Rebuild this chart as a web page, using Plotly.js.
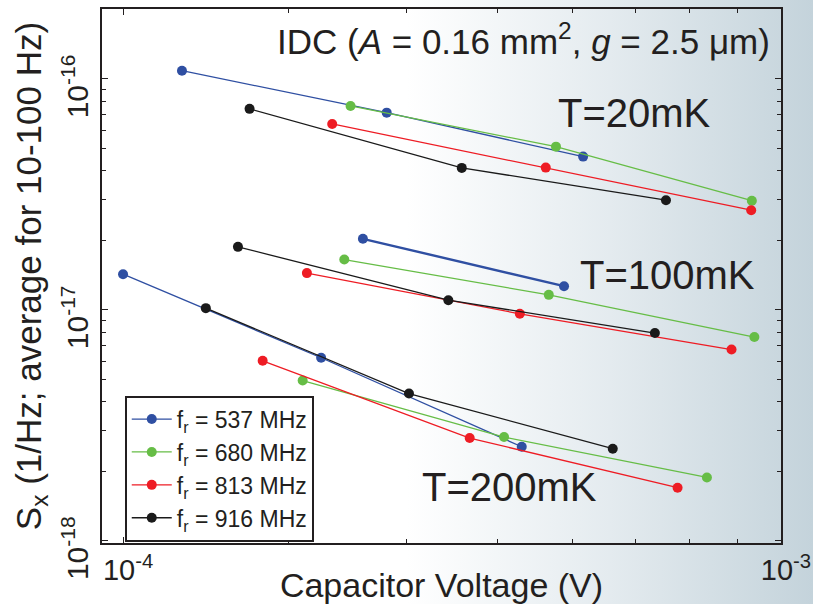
<!DOCTYPE html>
<html>
<head>
<meta charset="utf-8">
<script src="https://cdn.plot.ly/plotly-3.0.1.min.js"></script>
<style>
  html, body { margin: 0; padding: 0; }
  #chart { width: 813px; height: 604px;
    background: linear-gradient(90deg, #ffffff 0%, #ffffff 50%, #e4ebef 75%, #c4d3db 100%); }
</style>
</head>
<body>
<div id="chart"></div>
<script>
// Frequencies (legend)
const freqLabels = ['f<sub>r</sub> = 537 MHz', 'f<sub>r</sub> = 680 MHz', 'f<sub>r</sub> = 813 MHz', 'f<sub>r</sub> = 916 MHz'];
const temps = ['20mK', '100mK', '200mK'];

// Capacitor voltage (V) and S_x (1/Hz) per frequency and temperature
// f_r = 537 MHz
const x537_20  = [1.229e-4, 2.516e-4, 5.003e-4];
const y537_20  = [1.086e-16, 7.146e-17, 4.609e-17];
const x537_100 = [2.315e-4, 4.68e-4];
const y537_100 = [2.03e-17, 1.266e-17];
const x537_200 = [1.0e-4, 2.0e-4, 4.036e-4];
const y537_200 = [1.427e-17, 6.2e-18, 2.552e-18];
// f_r = 680 MHz
const x680_20  = [2.217e-4, 4.55e-4, 9.03e-4];
const y680_20  = [7.64e-17, 5.09e-17, 2.97e-17];
const x680_100 = [2.169e-4, 4.437e-4, 9.11e-4];
const y680_100 = [1.651e-17, 1.161e-17, 7.62e-18];
const x680_200 = [1.875e-4, 3.794e-4, 7.716e-4];
const y680_200 = [4.94e-18, 2.811e-18, 1.879e-18];
// f_r = 813 MHz
const x813_20  = [2.079e-4, 4.39e-4, 9.01e-4];
const y813_20  = [6.385e-17, 4.13e-17, 2.70e-17];
const x813_100 = [1.903e-4, 4.009e-4, 8.41e-4];
const y813_100 = [1.442e-17, 9.61e-18, 6.73e-18];
const x813_200 = [1.63e-4, 3.364e-4, 6.963e-4];
const y813_200 = [6.015e-18, 2.783e-18, 1.696e-18];
// f_r = 916 MHz
const x916_20  = [1.557e-4, 3.272e-4, 6.686e-4];
const y916_20  = [7.42e-17, 4.118e-17, 2.985e-17];
const x916_100 = [1.495e-4, 3.122e-4, 6.432e-4];
const y916_100 = [1.874e-17, 1.101e-17, 7.93e-18];
const x916_200 = [1.336e-4, 2.72e-4, 5.55e-4];
const y916_200 = [1.017e-17, 4.34e-18, 2.502e-18];

// Axis ticks
const xTickVals = [1e-4, 1e-3];
const xTickText = ['10<sup>-4</sup>', '10<sup>-3</sup>'];
const xMinorVals = [1.787e-4, 2.698e-4, 3.711e-4, 4.827e-4, 6.0e-4, 7.261e-4, 8.59e-4];
const yTickVals = [1e-18, 1e-17, 1e-16];
const yTickText = ['10<sup>-18</sup>', '10<sup>-17</sup>', '10<sup>-16</sup>'];
const yMinorVals = [2e-18, 3e-18, 4e-18, 5e-18, 6e-18, 7e-18, 8e-18, 9e-18,
                    2e-17, 3e-17, 4e-17, 5e-17, 6e-17, 7e-17, 8e-17, 9e-17];

const colors = ['#2f4fa2', '#66bd46', '#ee1c24', '#1a1a1a'];
const seriesData = [
  [[x537_20, y537_20], [x537_100, y537_100], [x537_200, y537_200]],
  [[x680_20, y680_20], [x680_100, y680_100], [x680_200, y680_200]],
  [[x813_20, y813_20], [x813_100, y813_100], [x813_200, y813_200]],
  [[x916_20, y916_20], [x916_100, y916_100], [x916_200, y916_200]]
];

const traces = [];
seriesData.forEach((groups, fi) => {
  groups.forEach((g, ti) => {
    const thick = (fi === 0 && ti === 1);
    traces.push({
      type: 'scatter', mode: 'lines+markers',
      x: g[0], y: g[1],
      name: freqLabels[fi],
      legendgroup: 'f' + fi,
      showlegend: ti === 0,
      line: { color: colors[fi], width: thick ? 2.4 : 1.3 },
      marker: { color: colors[fi], size: 10 },
      hovertemplate: temps[ti] + '<br>%{x}<br>%{y}<extra></extra>'
    });
  });
});

const axColor = '#231f20';
const layout = {
  width: 813, height: 604,
  margin: { l: 102, r: 32, t: 9, b: 61 },
  paper_bgcolor: 'rgba(0,0,0,0)',
  plot_bgcolor: 'rgba(0,0,0,0)',
  font: { family: 'Liberation Sans, Arial, sans-serif', color: axColor },
  showlegend: true,
  legend: {
    x: 0.0335, y: 0.276, xanchor: 'left', yanchor: 'top',
    bgcolor: '#ffffff', bordercolor: axColor, borderwidth: 2,
    font: { size: 23, color: axColor },
    itemwidth: 40, tracegroupgap: 0, traceorder: 'normal'
  },
  xaxis: {
    type: 'log', range: [-4.032, -3.0],
    showline: true, linecolor: axColor, linewidth: 2, mirror: 'ticks',
    showgrid: false, zeroline: false,
    ticks: 'inside', ticklen: 6, tickwidth: 1, tickcolor: axColor,
    tickmode: 'array', tickvals: xTickVals, ticktext: xTickText,
    tickfont: { size: 29, color: axColor }, ticklabelshift: 5, ticklabeloverflow: 'allow',
    minor: { tickmode: 'array', tickvals: xMinorVals, ticks: 'inside', ticklen: 4, tickcolor: axColor, showgrid: false },
    title: { text: 'Capacitor Voltage (V)', font: { size: 34, color: axColor }, standoff: 3 }
  },
  yaxis: {
    type: 'log', range: [-18.01, -15.697],
    showline: true, linecolor: axColor, linewidth: 2, mirror: 'ticks',
    showgrid: false, zeroline: false,
    ticks: 'inside', ticklen: 6, tickwidth: 1, tickcolor: axColor,
    tickmode: 'array', tickvals: yTickVals, ticktext: yTickText,
    tickangle: -90, tickfont: { size: 30, color: axColor }, ticklabelshift: 12, ticklabeloverflow: 'allow',
    minor: { tickmode: 'array', tickvals: yMinorVals, ticks: 'inside', ticklen: 4, tickcolor: axColor, showgrid: false },
    title: { text: 'S<sub>x</sub> (1/Hz; average for 10-100 Hz)', font: { size: 35, color: axColor }, standoff: 4 }
  },
  annotations: [
    { xref: 'paper', yref: 'paper', x: 0.987, y: 0.944, xanchor: 'right', yanchor: 'middle', showarrow: false,
      text: 'IDC (<i>A</i> = 0.16 mm<sup>2</sup>, <i>g</i> = 2.5 μm)', font: { size: 35, color: axColor } },
    { xref: 'paper', yref: 'paper', x: 0.669, y: 0.805, xanchor: 'left', yanchor: 'middle', showarrow: false,
      text: 'T=20mK', font: { size: 40, color: axColor } },
    { xref: 'paper', yref: 'paper', x: 0.701, y: 0.502, xanchor: 'left', yanchor: 'middle', showarrow: false,
      text: 'T=100mK', font: { size: 40, color: axColor } },
    { xref: 'paper', yref: 'paper', x: 0.468, y: 0.104, xanchor: 'left', yanchor: 'middle', showarrow: false,
      text: 'T=200mK', font: { size: 40, color: axColor } }
  ]
};

Plotly.newPlot('chart', traces, layout, { displayModeBar: false, staticPlot: true });
</script>
</body>
</html>
